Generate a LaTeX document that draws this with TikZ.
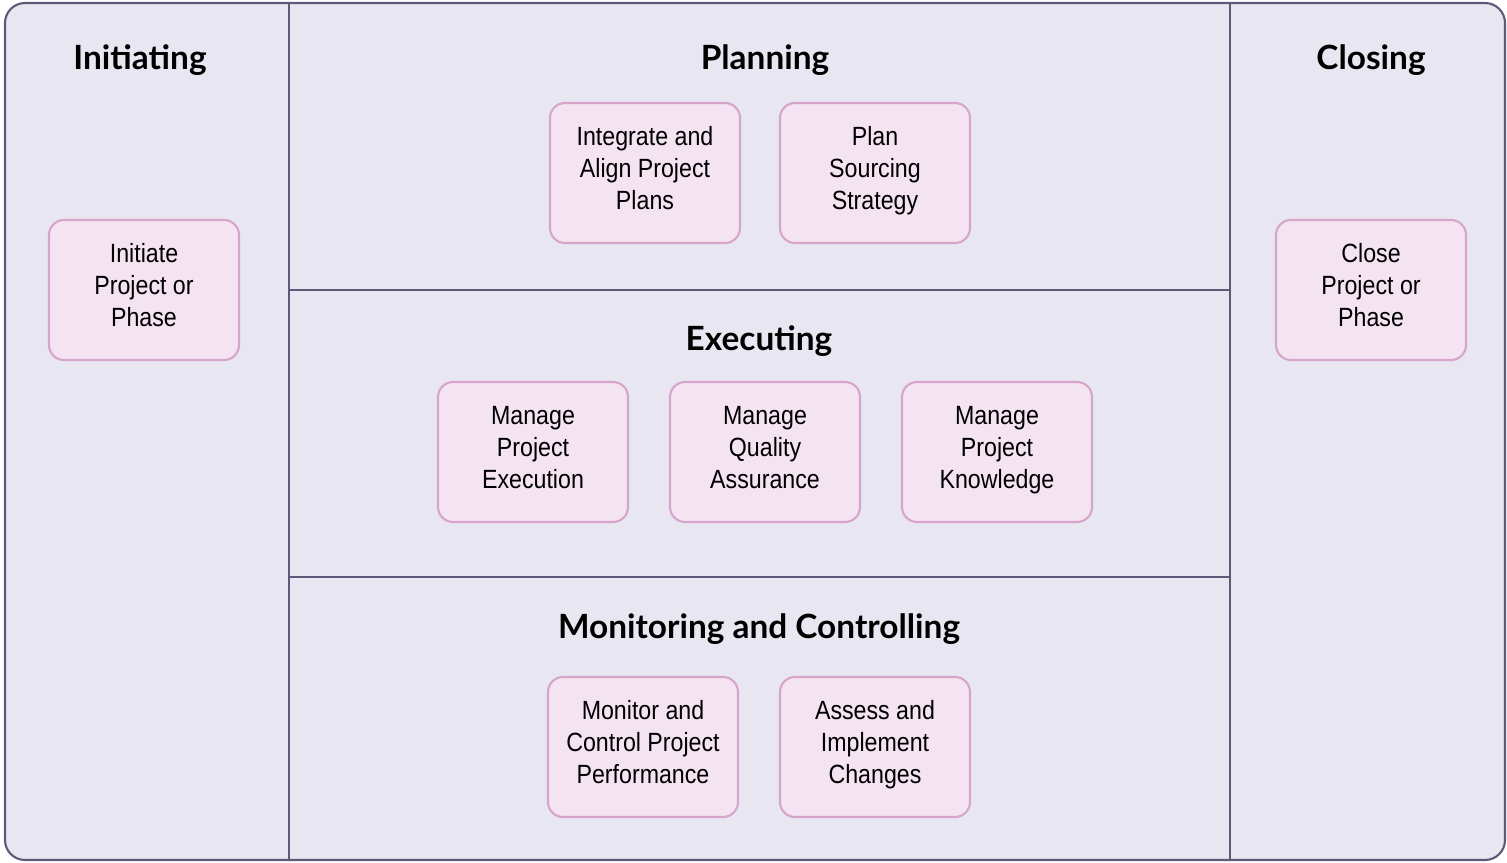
\documentclass[tikz,border=0pt]{standalone}
\usepackage{fontspec}
\setmainfont{Lato}
\newfontfamily\boxfont[FakeStretch=0.88]{Liberation Sans}
\usepackage{tikz}
\usetikzlibrary{positioning}

\definecolor{groundc}{HTML}{E8E6F1}
\definecolor{framec}{HTML}{5C5A78}
\definecolor{procfill}{HTML}{F4E4F1}
\definecolor{procline}{HTML}{D7A4CB}

\tikzset{
  process/.style={draw=procline, fill=procfill, line width=0.6pt,
    rounded corners=0.15cm, minimum width=1.9cm, minimum height=1.4cm,
    align=center, font=\boxfont\fontsize{7.5}{9.1}\selectfont,
    execute at begin node=\strut, execute at end node=\strut},
  group/.style={font=\bfseries\fontsize{9.5}{11}\selectfont},
  divider/.style={draw=framec, line width=0.6pt}
}

\begin{document}
\begin{tikzpicture}
      \useasboundingbox (0,0) rectangle (15.07,8.62);
      % frame
      \draw[divider, fill=groundc, rounded corners=0.2cm] (0.05,0.02) rectangle (15.05,8.59);
      \draw[divider] (2.89,0.02) -- (2.89,8.59);
      \draw[divider] (12.30,0.02) -- (12.30,8.59);
      \draw[divider] (2.89,5.72) -- (12.30,5.72);
      \draw[divider] (2.89,2.85) -- (12.30,2.85);
      % Initiating
      \node[group] (initiating) at (1.40,8.02) {Initiating};
      \node[process] (initiate) at (1.44,5.72) {Initiate\\Project or\\Phase};
      % Planning
      \node[group] (planning) at (7.65,8.02) {Planning};
      \node[process] (integrate) at (6.45,6.89) {Integrate and\\Align Project\\Plans};
      \node[process] (sourcing) at (8.75,6.89) {Plan\\Sourcing\\Strategy};
      % Executing
      \node[group] (executing) at (7.59,5.21) {Executing};
      \node[process] (execution) at (5.33,4.10) {Manage\\Project\\Execution};
      \node[process] (quality) at (7.65,4.10) {Manage\\Quality\\Assurance};
      \node[process] (knowledge) at (9.97,4.10) {Manage\\Project\\Knowledge};
      % Monitoring and Controlling
      \node[group] (monitoring) at (7.59,2.33) {Monitoring and Controlling};
      \node[process] (performance) at (6.43,1.15) {Monitor and\\Control Project\\Performance};
      \node[process] (changes) at (8.75,1.15) {Assess and\\Implement\\Changes};
      % Closing
      \node[group] (closing) at (13.71,8.02) {Closing};
      \node[process] (close) at (13.71,5.72) {Close\\Project or\\Phase};
    \end{tikzpicture}
\end{document}
